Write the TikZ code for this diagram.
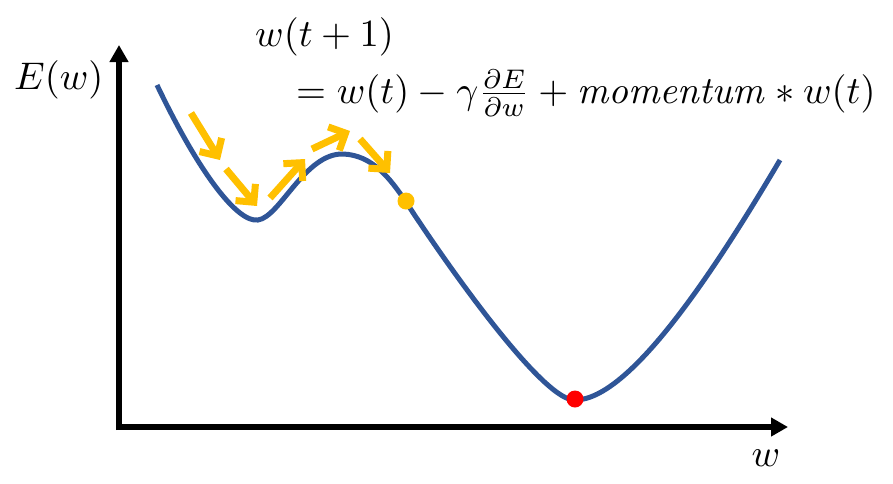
\documentclass[tikz,border=0pt]{standalone}
\usetikzlibrary{arrows.meta}
\definecolor{curveblue}{RGB}{47,85,151}
\definecolor{gold}{RGB}{255,192,0}
\definecolor{dotred}{RGB}{255,0,0}
\newcommand{\bigmath}[1]{\scalebox{3.85}{$#1$}}
\begin{document}
\begin{tikzpicture}[x=1pt,y=-1pt,
  axis/.style={line width=6pt,-{Triangle[length=17pt,width=18pt]}},
  curve/.style={line width=5pt,curveblue,line cap=butt},
  stepar/.style={gold,line width=7pt,-{Straight Barb[length=13pt,width=26pt]}},
  lbl/.style={inner sep=0pt}]
\useasboundingbox (0,0) rectangle (893,483);
\coordinate (O) at (119,427);
\coordinate (Ytip) at (119,45);
\coordinate (Xtip) at (788,427);
\draw[axis] (119,430) -- (Ytip);
\draw[axis] (116,427) -- (Xtip);
\draw[curve] (157,85) .. controls (200,175) and (238,223) .. (258,220)
  .. controls (280,217) and (305,153) .. (343,154)
  .. controls (372,155) and (390,178) .. (406,202)
  .. controls (455,277) and (545,402) .. (575,400)
  .. controls (630,400) and (715,270) .. (780,160);
\draw[stepar] (191,113) -- (220,160);
\draw[stepar] (226,169) -- (257,206);
\draw[stepar] (270,198) -- (305,159);
\draw[stepar] (312,149) -- (350,131);
\draw[stepar] (360,139) -- (390,173);
\fill[gold] (406,201) circle (8.5);
\fill[dotred] (575,399) circle (8.5);
\node[lbl,anchor=west] (ew) at (14,80) {\bigmath{E(w)}};
\node[lbl,anchor=west] (lhs) at (255,37) {\bigmath{w(t+1)}};
\node[lbl,anchor=west] (rhs) at (296,93) {\bigmath{=w(t)-\gamma\frac{\partial E}{\partial w}+\mathit{momentum}\ast w(t)}};
\node[lbl] (wl) at (766,458) {\bigmath{w}};
\end{tikzpicture}
\end{document}
